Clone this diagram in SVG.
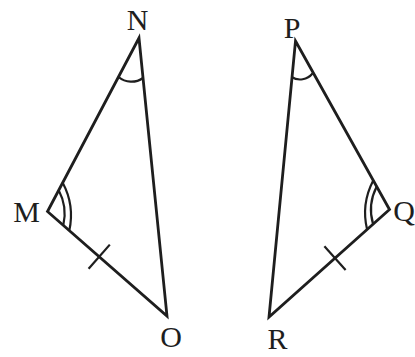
<svg xmlns="http://www.w3.org/2000/svg" width="415" height="357" viewBox="0 0 415 357">
<style>
.edge{fill:none;stroke:#1e1e1e;stroke-width:2.8;stroke-linejoin:miter;stroke-linecap:round}
.mark{fill:none;stroke:#1e1e1e;stroke-width:2.2}
.lbl{font-family:"Liberation Serif","DejaVu Serif",serif;font-size:30px;fill:#1e1e1e;text-anchor:middle}
</style>
<rect width="415" height="357" fill="#ffffff"/>
<g id="connectors">
<polygon class="edge" points="139,38 47.5,211.5 167,316"/>
<polygon class="edge" points="295.5,41 389.5,209.5 269,317"/>
<line class="mark" x1="88.6" y1="268.8" x2="109.8" y2="244.6"/>
<line class="mark" x1="324.4" y1="246.2" x2="345.6" y2="270"/>
</g>
<g id="node-N">
<path class="mark" d="M118.5 77 A20 20 0 0 0 143 78"/>
<text class="lbl" x="137.5" y="30">N</text>
</g>
<g id="node-M">
<path class="mark" d="M58.7 190.3 A50 50 0 0 1 63.3 225.3"/>
<path class="mark" d="M62.7 182.7 A70 70 0 0 1 69.3 230.6"/>
<text class="lbl" x="26.5" y="222">M</text>
</g>
<g id="node-O">
<text class="lbl" x="171" y="347">O</text>
</g>
<g id="node-P">
<path class="mark" d="M291.5 77 A16 16 0 0 0 312.5 73.5"/>
<text class="lbl" x="292" y="38">P</text>
</g>
<g id="node-Q">
<path class="mark" d="M376.5 187 A50 50 0 0 0 373.1 224.1"/>
<path class="mark" d="M373 181 A70 70 0 0 0 367.1 229.5"/>
<text class="lbl" x="404" y="221">Q</text>
</g>
<g id="node-R">
<text class="lbl" x="277.5" y="349">R</text>
</g>
</svg>
